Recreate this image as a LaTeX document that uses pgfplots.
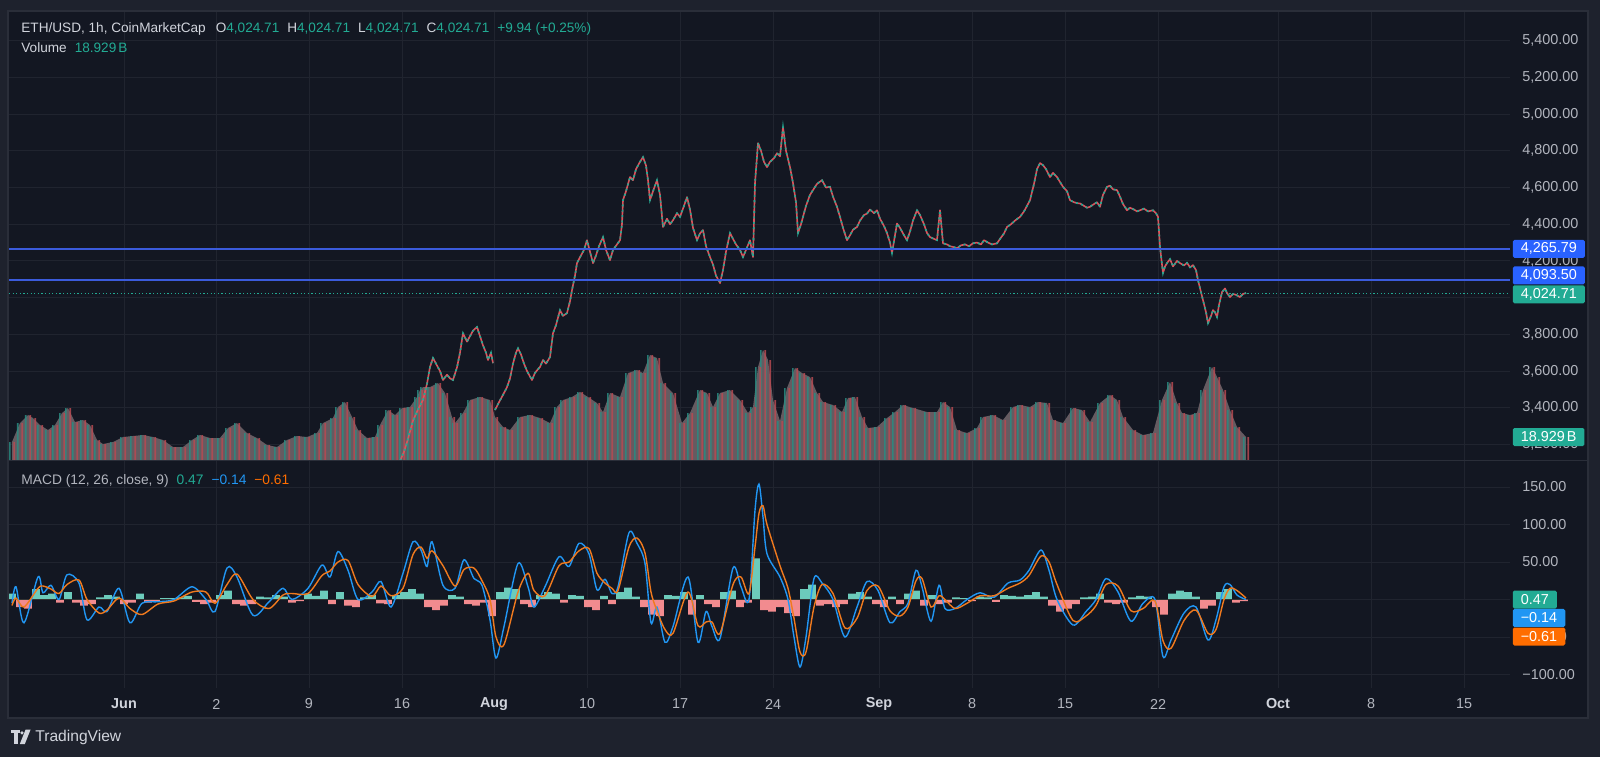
\documentclass[border=0pt]{standalone}
\usepackage{fontspec}
\setmainfont{Liberation Sans}
\usepackage{pgfplots}
\usepackage{pgfplotstable}
\pgfplotsset{compat=1.18}
\definecolor{outerbg}{HTML}{1E222D}
\definecolor{panelbg}{HTML}{131722}
\definecolor{bordc}{HTML}{2A2E39}
\definecolor{gridc}{HTML}{20242F}
\definecolor{ticktxt}{HTML}{B2B5BE}
\definecolor{titletxt}{HTML}{D1D4DC}
\definecolor{upc}{HTML}{22AB94}
\definecolor{dnc}{HTML}{DC535C}
\definecolor{lvlblue}{HTML}{3B5BDB}
\definecolor{boxblue}{HTML}{2962FF}
\definecolor{macdblue}{HTML}{2196F3}
\definecolor{sigorange}{HTML}{F07A1E}
\definecolor{boxorange}{HTML}{FF6D00}
\definecolor{histup}{HTML}{6CCBBB}
\definecolor{histdn}{HTML}{F28B8F}
\definecolor{volfill}{HTML}{655B61}
\definecolor{volup}{HTML}{2A8C82}
\definecolor{voldn}{HTML}{B84A52}

% price trace, first block (pixel-x, USD)
\pgfplotstableread{
x p
395 3060
400 3110
404 3160
408 3230
413 3330
418 3390
423 3442
427 3530
430 3622
433 3671
436 3640
440 3600
443 3551
447 3580
450 3560
453 3551
457 3620
460 3700
463 3806
467 3760
470 3790
473 3820
477 3840
480 3790
483 3740
486 3700
488 3660
491 3700
493 3643
}\priceA
% price trace, second block
\pgfplotstableread{
x p
495 3388
499 3430
503 3470
507 3512
510 3560
513 3640
516 3700
518 3724
521 3690
524 3640
527 3600
530 3570
532 3551
535 3590
538 3610
540 3622
543 3660
546 3640
550 3676
553 3806
556 3850
560 3932
563 3900
567 3916
570 3980
572 4041
575 4120
577 4188
580 4220
584 4260
587 4313
590 4250
593 4188
596 4230
599 4280
603 4330
606 4260
610 4204
613 4260
617 4290
620 4313
622 4400
623 4531
626 4580
630 4657
633 4640
636 4700
640 4740
643 4766
646 4720
648 4640
650 4531
653 4580
657 4640
660 4560
663 4385
667 4430
670 4400
673 4422
677 4460
680 4440
684 4500
687 4548
690 4480
693 4380
697 4313
700 4350
703 4368
706 4280
710 4221
713 4180
716 4120
720 4079
723 4150
726 4250
730 4352
733 4320
736 4290
740 4260
743 4221
746 4260
750 4313
753 4221
755 4624
758 4842
761 4800
764 4740
767 4711
770 4740
774 4760
777 4787
780 4770
783 4929
786 4800
790 4711
793 4624
796 4520
798 4352
801 4400
803 4440
806 4500
810 4560
813 4586
817 4620
822 4640
826 4600
830 4604
833 4550
837 4495
840 4440
843 4380
847 4313
850 4340
853 4370
857 4385
860 4420
864 4450
867 4458
870 4480
874 4460
877 4476
880 4430
884 4390
887 4352
890 4300
892 4243
895 4340
897 4404
900 4380
904 4340
907 4313
910 4360
913 4420
917 4476
920 4450
924 4400
927 4352
930 4330
934 4320
937 4313
940 4476
943 4296
947 4290
950 4280
954 4275
957 4269
961 4285
965 4290
969 4280
973 4296
977 4300
981 4290
984 4313
988 4300
992 4290
997 4296
1000 4320
1004 4350
1007 4385
1011 4400
1015 4420
1020 4440
1024 4470
1027 4500
1030 4531
1034 4620
1037 4700
1040 4733
1043 4722
1046 4700
1050 4657
1053 4680
1057 4657
1060 4630
1063 4604
1067 4580
1070 4531
1074 4520
1077 4515
1080 4513
1084 4500
1087 4490
1090 4495
1094 4510
1097 4520
1100 4495
1103 4560
1107 4604
1110 4610
1113 4590
1117 4586
1120 4550
1123 4510
1127 4476
1130 4490
1134 4480
1137 4470
1140 4476
1144 4485
1148 4470
1153 4476
1156 4460
1158 4440
1160 4276
1162 4180
1163 4134
1165 4170
1167 4188
1170 4210
1173 4170
1177 4200
1180 4188
1184 4175
1187 4190
1190 4165
1193 4177
1196 4150
1198 4095
1201 4030
1203 3986
1206 3920
1208 3861
1211 3900
1213 3932
1215 3920
1217 3894
1219 3960
1222 4030
1225 4050
1227 4025
1230 4003
1233 4020
1236 4015
1240 4003
1243 4020
1246 4025
}\priceB
% volume (bar height, px units)
\pgfplotstableread{
x v
12 18
20 37
28 45
33 42
40 35
48 30
55 35
62 47
68 52
75 38
83 40
90 35
97 20
103 16
113 18
123 23
133 24
143 25
153 23
163 20
173 13
183 13
192 20
200 25
210 22
220 22
228 32
237 37
247 27
257 22
267 15
277 13
287 20
297 24
307 23
317 27
323 37
333 42
338 53
345 58
352 43
358 30
367 22
375 23
380 35
388 50
395 45
402 52
410 53
417 63
420 70
423 73
430 73
438 77
445 67
452 43
455 37
463 47
470 60
480 63
490 60
495 43
503 33
510 30
520 43
530 45
540 42
550 37
557 53
563 60
572 63
580 68
588 63
597 57
603 48
610 67
620 63
628 87
637 90
643 87
650 105
657 102
663 77
673 67
682 37
690 47
700 70
707 67
713 53
720 67
730 70
740 60
748 47
753 53
758 93
763 110
768 100
773 60
780 39
787 72
795 92
802 87
810 83
817 67
823 58
833 55
842 48
848 62
855 63
862 43
868 32
877 33
887 42
895 48
903 55
913 52
927 48
937 48
943 58
950 53
957 30
967 27
977 32
983 43
993 45
1003 40
1013 53
1020 55
1030 53
1038 58
1047 57
1053 40
1063 37
1073 52
1082 50
1090 38
1100 57
1110 65
1117 60
1123 43
1133 30
1143 25
1153 27
1162 60
1170 78
1177 57
1182 47
1190 45
1197 47
1203 70
1212 93
1217 83
1223 70
1230 50
1237 33
1246 23
}\vol
% MACD line and signal line
\pgfplotstableread{
x m s
12 -5 -8
16 17 2
24 -31 -10
38 30 15
43 9 18
51 19 14
59 0 8
67 33 20
79 22 26
87 -27 0
99 -10 -18
107 -16 -14
119 15 2
130 -31 -12
142 -5 -20
158 -3 -6
174 0 -2
192 17 10
206 0 10
215 -16 -5
227 42 20
237 30 34
253 -21 0
269 -3 -12
283 15 6
292 0 8
308 15 8
322 46 32
330 30 38
338 64 50
348 39 52
358 0 20
372 10 4
381 24 18
391 -10 5
403 35 15
413 77 60
421 66 70
427 44 55
432 77 65
443 19 45
455 15 18
464 53 40
474 28 42
482 19 25
490 -27 0
496 -78 -50
504 -36 -60
518 48 10
528 17 35
534 -10 12
545 17 5
559 57 45
569 44 50
579 75 65
589 61 68
597 13 35
605 27 22
612 8 15
618 17 12
629 89 70
637 75 82
645 48 62
651 -31 10
657 -10 -15
665 -57 -40
673 -36 -45
688 30 10
698 -57 -35
706 -16 -30
712 -36 -30
720 -52 -45
733 42 20
741 17 30
749 0 8
755 119 70
759 154 115
763 110 125
767 61 100
780 30 45
788 0 15
794 -50 -25
800 -90 -70
806 -50 -70
814 28 -10
822 22 20
833 0 8
845 -50 -38
857 -10 -25
867 24 12
878 12 18
890 -31 -15
900 -16 -22
908 -5 -10
916 39 25
922 17 28
931 -29 -10
939 19 5
945 -12 0
955 -12 -12
967 0 -5
980 9 5
994 3 5
1008 22 15
1020 26 22
1029 39 32
1041 66 58
1049 39 50
1057 0 20
1073 -34 -28
1086 -16 -22
1096 0 -8
1106 28 20
1118 10 18
1131 -29 -15
1143 -5 -12
1155 0 -2
1163 -76 -55
1171 -54 -65
1184 -18 -28
1196 -10 -14
1208 -54 -45
1216 -27 -40
1224 17 0
1230 20 15
1237 6 12
1246 0 2
}\macd
% MACD histogram
\pgfplotstableread{
x h
12 8
20 -10
28 -12
36 14
44 6
52 8
60 -4
68 10
76 -4
84 -8
92 -6
100 3
108 6
116 4
124 -6
132 -4
140 8
148 -4
156 -3
164 2
172 2
180 3
188 5
196 -3
204 -6
212 -4
220 6
228 12
236 -6
244 -8
252 -6
260 4
268 3
276 6
284 4
292 -4
300 -2
308 8
316 5
324 12
332 -6
340 10
348 -8
356 -10
364 3
372 6
380 -5
388 -6
396 6
404 10
412 14
420 8
428 -10
436 -14
444 -8
452 6
460 4
468 -6
476 -8
484 -4
492 -22
500 10
508 16
516 14
524 -6
532 -10
540 6
548 10
556 8
564 -4
572 6
580 5
588 -10
596 -14
604 5
612 -6
620 10
628 16
636 4
644 -10
652 -20
660 -22
668 6
676 5
684 10
692 -20
700 6
708 -6
716 -10
724 10
732 12
740 -10
748 -4
756 55
764 -14
772 -16
780 -10
788 -18
796 -22
804 14
812 20
820 -8
828 -6
836 -10
844 -6
852 8
860 10
868 4
876 -6
884 -10
892 4
900 -6
908 8
916 12
924 -8
932 6
940 -6
948 -4
956 3
964 2
972 -2
980 4
988 3
996 -3
1004 6
1012 5
1020 4
1028 6
1036 10
1044 4
1052 -8
1060 -16
1068 -12
1076 -6
1084 3
1092 4
1100 8
1108 -4
1116 -6
1124 -4
1132 3
1140 5
1148 4
1156 -10
1164 -20
1172 8
1180 12
1188 10
1196 4
1204 -12
1212 -8
1220 10
1228 14
1236 -4
1244 -2
}\hist

\begin{document}
\begin{tikzpicture}[font=\fontsize{7.2}{8.6}\selectfont]
% backgrounds
\fill[outerbg] (0,0) rectangle (800pt,-378.5pt);
\fill[panelbg] (4pt,-5.5pt) rectangle (794pt,-359pt);

% ---------- price pane: grid and scale ----------
\begin{axis}[
  at={(4.5pt,-5.5pt)}, anchor=north west, scale only axis,
  width=750.5pt, height=224.5pt,
  xmin=9, xmax=1510, ymin=3115, ymax=5562,
  axis line style={draw=none}, tick style={draw=none},
  xtick={124,216.5,309,402,494,587,680,773,879,972,1065,1158,1278,1371,1464},
  xticklabels={},
  ytick={3200,3400,3600,3800,4000,4200,4400,4600,4800,5000,5200,5400},
  yticklabels={{3,200.00},{3,400.00},{3,600.00},{3,800.00},{4,000.00},{4,200.00},{4,400.00},{4,600.00},{4,800.00},{5,000.00},{5,200.00},{5,400.00}},
  yticklabel pos=right,
  yticklabel style={anchor=west, inner sep=0pt, xshift=6pt, text=ticktxt},
  grid=major, major grid style={draw=gridc, line width=0.5pt},
]
\addplot[draw=none] coordinates {(9,3115)};
\end{axis}

% ---------- volume overlay ----------
\begin{axis}[
  at={(4.5pt,-5.5pt)}, anchor=north west, scale only axis,
  width=750.5pt, height=224.5pt,
  xmin=9, xmax=1510, ymin=0, ymax=449, hide axis,
]
\addplot[fill=volfill, draw=none] table[x=x,y=v] {\vol} \closedcycle;
\addplot[ybar, bar width=0.8pt, bar shift=-1.1pt, fill=volup, draw=none, fill opacity=0.85] table[x=x,y=v] {\vol};
\addplot[ybar, bar width=0.8pt, bar shift=1.1pt, fill=voldn, draw=none, fill opacity=0.85] table[x=x,y=v] {\vol};
\coordinate (VL) at (axis cs:1510,23);
\end{axis}

% ---------- price trace and levels ----------
\begin{axis}[
  at={(4.5pt,-5.5pt)}, anchor=north west, scale only axis,
  width=750.5pt, height=224.5pt,
  xmin=9, xmax=1510, ymin=3115, ymax=5562, hide axis,
]
\addplot[dnc, line width=0.8pt, line join=round] table[x=x,y=p] {\priceA};
\addplot[upc, line width=0.8pt, dash pattern=on 1pt off 1.7pt] table[x=x,y=p] {\priceA};
\addplot[dnc, line width=0.8pt, line join=round] table[x=x,y=p] {\priceB};
\addplot[upc, line width=0.8pt, dash pattern=on 1pt off 1.7pt] table[x=x,y=p] {\priceB};
\addplot[upc, line width=0.4pt, dash pattern=on 0.6pt off 1.2pt] coordinates {(9,4024.71) (1510,4024.71)};
\addplot[lvlblue, line width=1pt] coordinates {(9,4265.79) (1510,4265.79)};
\addplot[lvlblue, line width=1pt] coordinates {(9,4093.50) (1510,4093.50)};
\coordinate (L1) at (axis cs:1510,4265.79);
\coordinate (L2) at (axis cs:1510,4093.50);
\coordinate (L3) at (axis cs:1510,4024.71);
\end{axis}

% ---------- MACD pane ----------
\begin{axis}[
  at={(4.5pt,-230.5pt)}, anchor=north west, scale only axis,
  width=750.5pt, height=113.5pt,
  xmin=9, xmax=1510, ymin=-118, ymax=184.7,
  axis line style={draw=none}, tick style={draw=none},
  xtick={124,216.5,309,402,494,587,680,773,879,972,1065,1158,1278,1371,1464},
  xticklabels={{\bfseries\color{titletxt}Jun},2,9,16,{\bfseries\color{titletxt}Aug},10,17,24,{\bfseries\color{titletxt}Sep},8,15,22,{\bfseries\color{titletxt}Oct},8,15},
  xticklabel style={anchor=center, inner sep=0pt, yshift=-8pt, text=ticktxt},
  ytick={-100,-50,0,50,100,150},
  yticklabels={{−100.00},{−50.00},{0.00},{50.00},{100.00},{150.00}},
  yticklabel pos=right,
  yticklabel style={anchor=west, inner sep=0pt, xshift=6pt, text=ticktxt},
  grid=major, major grid style={draw=gridc, line width=0.5pt},
]
\addplot[ybar, bar width=3.9pt, fill=histup, draw=none, restrict y to domain=0:300] table[x=x,y=h] {\hist};
\addplot[ybar, bar width=3.9pt, fill=histdn, draw=none, restrict y to domain=-300:0] table[x=x,y=h] {\hist};
\addplot[black!80, line width=0.4pt] coordinates {(9,0) (1246,0)};
\addplot[macdblue, line width=0.7pt, smooth, tension=0.5] table[x=x,y=m] {\macd};
\addplot[sigorange, line width=0.7pt, smooth, tension=0.5] table[x=x,y=s] {\macd};
\coordinate (M1) at (axis cs:1510,0);
\end{axis}

% pane borders
\draw[bordc, line width=0.6pt] (4pt,-5.5pt) rectangle (794pt,-359pt);
\draw[bordc, line width=0.8pt] (4pt,-230.2pt) -- (794pt,-230.2pt);

% scale labels
\tikzset{lbl/.style={anchor=west, inner xsep=4pt, inner ysep=0pt, minimum height=9pt, rounded corners=0.8pt, text=white, xshift=1.2pt}}
\node[lbl, fill=boxblue] at (L1) {4,265.79};
\node[lbl, fill=boxblue, yshift=2.5pt] at (L2) {4,093.50};
\node[lbl, fill=upc, yshift=-0.6pt] at (L3) {4,024.71};
\node[lbl, fill=upc] at (VL) {18.929\kern1pt B};
\node[lbl, fill=upc] at (M1) {0.47};
\node[lbl, fill=macdblue, yshift=-9.2pt] at (M1) {−0.14};
\node[lbl, fill=boxorange, yshift=-18.5pt] at (M1) {−0.61};

% legends
\node[anchor=west, inner sep=0pt, text=titletxt, font=\fontsize{6.8}{8}\selectfont] at (10.5pt,-14.6pt)
  {ETH/USD, 1h, CoinMarketCap\hspace{5pt}O\textcolor{upc}{4,024.71}\hspace{4pt}H\textcolor{upc}{4,024.71}\hspace{4pt}L\textcolor{upc}{4,024.71}\hspace{4pt}C\textcolor{upc}{4,024.71}\hspace{4pt}\textcolor{upc}{+9.94 (+0.25\%)}};
\node[anchor=west, inner sep=0pt, text=titletxt, font=\fontsize{6.8}{8}\selectfont] at (10.5pt,-23.8pt)
  {Volume\hspace{4pt}\textcolor{upc}{18.929\kern1pt B}};
\node[anchor=west, inner sep=0pt, text=ticktxt, font=\fontsize{6.9}{8}\selectfont] at (10.5pt,-240.4pt)
  {MACD (12, 26, close, 9)\hspace{4pt}\textcolor{upc}{0.47}\hspace{4pt}\textcolor{macdblue}{−0.14}\hspace{4pt}\textcolor{boxorange}{−0.61}};

% TradingView mark
\fill[titletxt] (5.5pt,-364.8pt) rectangle (10pt,-366.6pt);
\fill[titletxt] (7.2pt,-366.6pt) rectangle (9pt,-372pt);
\fill[titletxt] (11pt,-366.4pt) circle (0.9pt);
\fill[titletxt] (12.8pt,-364.8pt) -- (15.3pt,-364.8pt) -- (12.4pt,-372pt) -- (9.9pt,-372pt) -- cycle;
\node[anchor=west, inner sep=0pt, text=titletxt, font=\fontsize{7.8}{9}\selectfont] at (17.5pt,-368.6pt) {TradingView};
\end{tikzpicture}
\end{document}
